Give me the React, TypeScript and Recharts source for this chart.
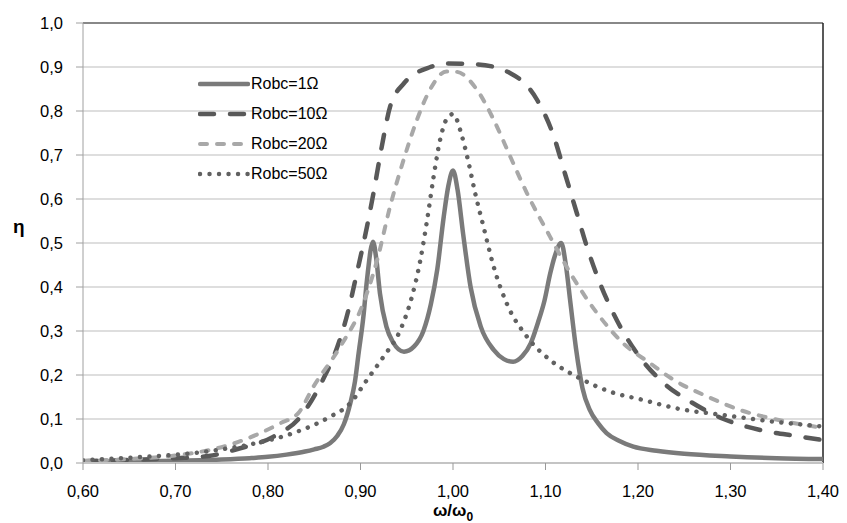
import React from "react";
import { LineChart, Line, XAxis, YAxis, CartesianGrid, ReferenceLine } from "recharts";

// ω/ω0 and η for each load resistance
const r1X = [0.6, 0.65, 0.7, 0.75, 0.78, 0.8, 0.82, 0.84, 0.85, 0.86, 0.867, 0.875, 0.882, 0.889, 0.894, 0.898, 0.903, 0.907, 0.9135, 0.917, 0.921, 0.928, 0.935, 0.947, 0.958, 0.968, 0.976, 0.983, 0.99, 0.995, 1.0, 1.005, 1.011, 1.019, 1.03, 1.044, 1.055, 1.065, 1.075, 1.084, 1.092, 1.099, 1.105, 1.11, 1.117, 1.122, 1.127, 1.133, 1.14, 1.148, 1.157, 1.166, 1.18, 1.195, 1.22, 1.25, 1.3, 1.35, 1.4];
const r1Y = [0.003, 0.004, 0.005, 0.008, 0.011, 0.014, 0.019, 0.026, 0.031, 0.037, 0.045, 0.062, 0.088, 0.136, 0.185, 0.25, 0.33, 0.416, 0.503, 0.465, 0.386, 0.31, 0.275, 0.253, 0.265, 0.3, 0.36, 0.44, 0.56, 0.63, 0.665, 0.62, 0.52, 0.4, 0.31, 0.257, 0.236, 0.23, 0.243, 0.272, 0.32, 0.37, 0.43, 0.47, 0.5, 0.45, 0.363, 0.26, 0.17, 0.12, 0.09, 0.068, 0.05, 0.037, 0.028, 0.021, 0.015, 0.011, 0.009];

const r10X = [0.6, 0.65, 0.7, 0.736, 0.769, 0.806, 0.835, 0.86, 0.875, 0.887, 0.896, 0.907, 0.914, 0.923, 0.932, 0.947, 0.9755, 0.9935, 1.026, 1.062, 1.091, 1.109, 1.121, 1.134, 1.145, 1.159, 1.177, 1.199, 1.228, 1.257, 1.2925, 1.332, 1.372, 1.4];
const r10Y = [0.004, 0.007, 0.011, 0.016, 0.033, 0.06, 0.105, 0.192, 0.264, 0.348, 0.431, 0.537, 0.613, 0.719, 0.81, 0.863, 0.9, 0.908, 0.906, 0.886, 0.825, 0.742, 0.658, 0.567, 0.49, 0.408, 0.325, 0.249, 0.181, 0.139, 0.1, 0.075, 0.061, 0.052];

const r20X = [0.6, 0.65, 0.7, 0.758, 0.813, 0.833, 0.849, 0.878, 0.903, 0.918, 0.932, 0.9466, 0.961, 0.975, 0.993, 1.004, 1.026, 1.044, 1.062, 1.08, 1.105, 1.127, 1.156, 1.184, 1.213, 1.2385, 1.275, 1.311, 1.347, 1.4];
const r20Y = [0.005, 0.009, 0.017, 0.041, 0.09, 0.114, 0.173, 0.264, 0.363, 0.461, 0.583, 0.689, 0.78, 0.848, 0.89, 0.889, 0.848, 0.78, 0.696, 0.613, 0.514, 0.431, 0.34, 0.272, 0.227, 0.189, 0.151, 0.12, 0.1, 0.08];

const r50X = [0.6, 0.65, 0.707, 0.75, 0.787, 0.83, 0.867, 0.889, 0.907, 0.925, 0.943, 0.9556, 0.9647, 0.972, 0.979, 0.986, 0.9935, 1.0, 1.0098, 1.017, 1.024, 1.033, 1.044, 1.058, 1.08, 1.105, 1.134, 1.17, 1.206, 1.242, 1.2925, 1.347, 1.4];
const r50Y = [0.006, 0.012, 0.02, 0.031, 0.045, 0.07, 0.105, 0.136, 0.189, 0.242, 0.302, 0.378, 0.461, 0.552, 0.65, 0.734, 0.783, 0.793, 0.742, 0.681, 0.613, 0.537, 0.446, 0.363, 0.287, 0.234, 0.196, 0.162, 0.143, 0.124, 0.109, 0.094, 0.083];

const xTicks = [0.6, 0.7, 0.8, 0.9, 1.0, 1.1, 1.2, 1.3, 1.4];
const yTicks = [0, 0.1, 0.2, 0.3, 0.4, 0.5, 0.6, 0.7, 0.8, 0.9, 1.0];

const zip = (xs: number[], ys: number[]) => xs.map((x, i) => ({ x, y: ys[i] }));

const series = [
  { name: "Robc=1Ω", data: zip(r1X, r1Y), color: "#7a7a7a", width: 4.5, dash: undefined as string | undefined },
  { name: "Robc=10Ω", data: zip(r10X, r10Y), color: "#595959", width: 4.5, dash: "14 16" },
  { name: "Robc=20Ω", data: zip(r20X, r20Y), color: "#a8a8a8", width: 4, dash: "7 10" },
  { name: "Robc=50Ω", data: zip(r50X, r50Y), color: "#616161", width: 4.5, dash: "0.01 9.5" },
];

const font = "'Liberation Sans', Arial, sans-serif";

const XLabel = (props: any) => {
  const vb = props.viewBox || {};
  const cx = vb.x + vb.width / 2;
  return (
    <text x={cx} y={516} textAnchor="middle" fontFamily={font} fontWeight="bold" fontSize={17} fill="#000">
      ω/ω<tspan dy={5} fontSize={12}>0</tspan>
    </text>
  );
};

const YLabel = () => (
  <text x={13} y={233} fontFamily={font} fontWeight="bold" fontSize={19} fill="#000">
    η
  </text>
);

export default function App() {
  return (
    <div style={{ position: "absolute", left: 0, top: 0, width: 847, height: 523, background: "#fff" }}>
      <LineChart width={847} height={523} margin={{ top: 23, right: 24, left: 0, bottom: 0 }}>
        <CartesianGrid vertical={false} stroke="#bdbdbd" strokeWidth={1.2} />
        <XAxis
          dataKey="x"
          type="number"
          domain={[0.6, 1.4]}
          ticks={xTicks}
          allowDataOverflow
          height={60}
          tickSize={7}
          tickMargin={15}
          stroke="#bdbdbd"
          axisLine={{ stroke: "#c4c4c4", strokeWidth: 2 }}
          tickLine={{ stroke: "#999" }}
          tick={{ fill: "#000", fontSize: 16.5, fontFamily: font }}
          tickFormatter={(v: number) => v.toFixed(2).replace(".", ",")}
          label={{ content: <XLabel /> } as any}
        />
        <YAxis
          type="number"
          domain={[0, 1]}
          ticks={yTicks}
          width={83}
          tickSize={7}
          tickMargin={13}
          axisLine={{ stroke: "#a0a0a0" }}
          tickLine={{ stroke: "#a0a0a0" }}
          tick={{ fill: "#000", fontSize: 16.5, fontFamily: font }}
          tickFormatter={(v: number) => v.toFixed(1).replace(".", ",")}
          label={{ content: <YLabel /> } as any}
        />
        <ReferenceLine y={1} stroke="#333" strokeWidth={1.2} />
        <ReferenceLine x={1.4} stroke="#222" strokeWidth={1.5} />
        {series.map((s) => (
          <Line
            key={s.name}
            data={s.data}
            dataKey="y"
            name={s.name}
            type="monotone"
            stroke={s.color}
            strokeWidth={s.width}
            strokeDasharray={s.dash}
            strokeLinecap="round"
            dot={false}
            activeDot={false}
            isAnimationActive={false}
          />
        ))}
      </LineChart>
      <div style={{ position: "absolute", left: 198, top: 69 }}>
        {series.map((s) => (
          <div key={s.name} style={{ display: "flex", alignItems: "center", height: 30 }}>
            <svg width={52} height={10}>
              <line
                x1={2}
                y1={5}
                x2={50}
                y2={5}
                stroke={s.color}
                strokeWidth={s.width}
                strokeDasharray={s.dash}
                strokeLinecap="round"
              />
            </svg>
            <span style={{ fontFamily: font, fontSize: 16, color: "#000", marginLeft: 1 }}>{s.name}</span>
          </div>
        ))}
      </div>
    </div>
  );
}
